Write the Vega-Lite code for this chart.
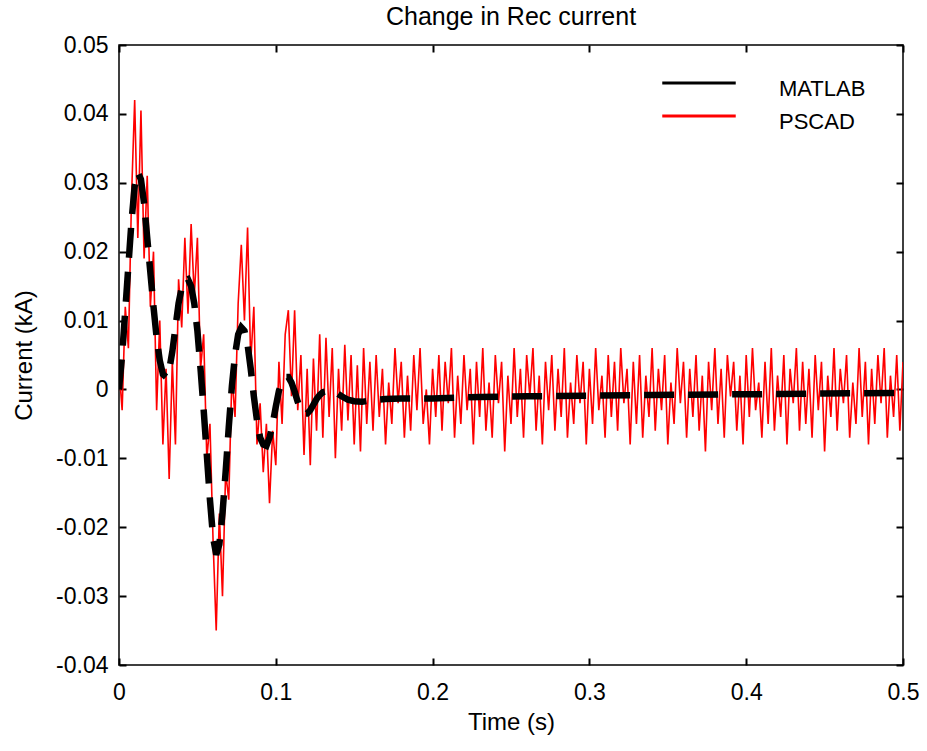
{
  "$schema": "https://vega.github.io/schema/vega-lite/v6.json",
  "width": 784,
  "height": 620,
  "autosize": {"type": "none"},
  "padding": {"left": 119, "top": 45, "right": 24, "bottom": 86},
  "background": "white",
  "config": {
    "font": "Liberation Sans",
    "view": {"stroke": "black", "strokeWidth": 1.5},
    "axis": {"grid": false, "domain": false, "offset": -7, "ticks": true, "tickColor": "#000000", "tickOpacity": 1, "labelColor": "black", "titleColor": "black", "labelFont": "Liberation Sans", "titleFont": "Liberation Sans", "labelFontSize": 23, "titleFontSize": 24, "titleFontWeight": "normal", "tickSize": 7, "tickWidth": 2, "zindex": 1, "labelFlush": false}
  },
  "title": {"text": "Change in Rec current", "font": "Liberation Sans", "fontSize": 25, "fontWeight": "normal", "color": "black", "offset": 4, "anchor": "middle"},
  "datasets": {
    "matlab": [
      {"t":0.000,"v":0.000},{"t":0.002,"v":0.005},{"t":0.004,"v":0.0115},{"t":0.006,"v":0.018},{"t":0.008,"v":0.0245},{"t":0.010,"v":0.0295},{"t":0.012,"v":0.0315},{"t":0.014,"v":0.0305},{"t":0.016,"v":0.027},{"t":0.018,"v":0.022},{"t":0.020,"v":0.017},{"t":0.022,"v":0.012},{"t":0.024,"v":0.0075},{"t":0.026,"v":0.0042},{"t":0.028,"v":0.0022},{"t":0.030,"v":0.0018},{"t":0.032,"v":0.0028},{"t":0.034,"v":0.0055},{"t":0.036,"v":0.009},{"t":0.038,"v":0.0125},{"t":0.040,"v":0.0148},{"t":0.042,"v":0.0158},{"t":0.044,"v":0.016},{"t":0.046,"v":0.015},{"t":0.048,"v":0.0125},{"t":0.050,"v":0.0085},{"t":0.052,"v":0.003},{"t":0.054,"v":-0.003},{"t":0.056,"v":-0.0095},{"t":0.058,"v":-0.016},{"t":0.060,"v":-0.0215},{"t":0.062,"v":-0.024},{"t":0.064,"v":-0.0225},{"t":0.066,"v":-0.018},{"t":0.068,"v":-0.012},{"t":0.070,"v":-0.0055},{"t":0.072,"v":0.0005},{"t":0.074,"v":0.005},{"t":0.076,"v":0.008},{"t":0.078,"v":0.009},{"t":0.080,"v":0.0085},{"t":0.082,"v":0.0065},{"t":0.084,"v":0.003},{"t":0.086,"v":-0.001},{"t":0.088,"v":-0.0045},{"t":0.090,"v":-0.007},{"t":0.092,"v":-0.008},{"t":0.094,"v":-0.0082},{"t":0.096,"v":-0.007},{"t":0.098,"v":-0.005},{"t":0.100,"v":-0.0025},{"t":0.102,"v":-0.0002},{"t":0.104,"v":0.0012},{"t":0.106,"v":0.0018},{"t":0.108,"v":0.0018},{"t":0.110,"v":0.001},{"t":0.112,"v":-0.0003},{"t":0.114,"v":-0.0018},{"t":0.116,"v":-0.003},{"t":0.118,"v":-0.0035},{"t":0.120,"v":-0.0035},{"t":0.122,"v":-0.003},{"t":0.124,"v":-0.0022},{"t":0.126,"v":-0.0014},{"t":0.128,"v":-0.0008},{"t":0.130,"v":-0.0004},{"t":0.134,"v":-0.0002},{"t":0.138,"v":-0.0004},{"t":0.142,"v":-0.001},{"t":0.146,"v":-0.0015},{"t":0.150,"v":-0.0017},{"t":0.155,"v":-0.0018},{"t":0.160,"v":-0.0016},{"t":0.170,"v":-0.0014},{"t":0.180,"v":-0.0013},{"t":0.200,"v":-0.0013},{"t":0.230,"v":-0.0011},{"t":0.260,"v":-0.001},{"t":0.300,"v":-0.0009},{"t":0.340,"v":-0.0008},{"t":0.400,"v":-0.0007},{"t":0.450,"v":-0.0006},{"t":0.500,"v":-0.0005}
    ],
    "pscad": [
      {"t":0.000,"v":0.003},{"t":0.002,"v":-0.003},{"t":0.004,"v":0.012},{"t":0.006,"v":0.006},{"t":0.008,"v":0.028},{"t":0.010,"v":0.042},{"t":0.012,"v":0.022},{"t":0.014,"v":0.0405},{"t":0.016,"v":0.019},{"t":0.018,"v":0.031},{"t":0.020,"v":0.012},{"t":0.022,"v":0.020},{"t":0.024,"v":-0.003},{"t":0.026,"v":0.010},{"t":0.028,"v":-0.008},{"t":0.030,"v":0.003},{"t":0.032,"v":-0.013},{"t":0.034,"v":0.004},{"t":0.036,"v":-0.008},{"t":0.038,"v":0.016},{"t":0.040,"v":0.009},{"t":0.042,"v":0.022},{"t":0.044,"v":0.011},{"t":0.046,"v":0.024},{"t":0.048,"v":0.0135},{"t":0.050,"v":0.022},{"t":0.052,"v":0.003},{"t":0.054,"v":0.008},{"t":0.056,"v":-0.010},{"t":0.058,"v":-0.005},{"t":0.060,"v":-0.022},{"t":0.062,"v":-0.035},{"t":0.064,"v":-0.018},{"t":0.066,"v":-0.030},{"t":0.068,"v":-0.012},{"t":0.070,"v":-0.016},{"t":0.072,"v":0.002},{"t":0.074,"v":-0.004},{"t":0.076,"v":0.0125},{"t":0.078,"v":0.021},{"t":0.080,"v":0.010},{"t":0.082,"v":0.0235},{"t":0.084,"v":0.004},{"t":0.086,"v":0.012},{"t":0.088,"v":-0.008},{"t":0.090,"v":-0.002},{"t":0.092,"v":-0.012},{"t":0.094,"v":-0.005},{"t":0.096,"v":-0.0165},{"t":0.098,"v":-0.006},{"t":0.100,"v":-0.011},{"t":0.102,"v":0.004},{"t":0.104,"v":-0.005},{"t":0.106,"v":0.008},{"t":0.108,"v":0.0115},{"t":0.110,"v":-0.001},{"t":0.112,"v":0.0115},{"t":0.114,"v":-0.003},{"t":0.116,"v":0.005},{"t":0.118,"v":-0.0095},{"t":0.120,"v":0.003},{"t":0.122,"v":-0.011},{"t":0.124,"v":0.0045},{"t":0.126,"v":-0.006},{"t":0.128,"v":0.008},{"t":0.130,"v":-0.007},{"t":0.132,"v":0.0075},{"t":0.134,"v":-0.004},{"t":0.136,"v":0.006},{"t":0.138,"v":-0.010},{"t":0.140,"v":0.003},{"t":0.142,"v":-0.006},{"t":0.144,"v":0.0065},{"t":0.146,"v":-0.0045},{"t":0.148,"v":0.005},{"t":0.150,"v":-0.008},{"t":0.152,"v":0.0035},{"t":0.154,"v":-0.009},{"t":0.156,"v":0.006},{"t":0.158,"v":-0.005},{"t":0.160,"v":0.004},
      {"t":0.162,"v":-0.006},{"t":0.164,"v":0.005},{"t":0.166,"v":-0.004},{"t":0.168,"v":0.003},{"t":0.170,"v":-0.008},{"t":0.172,"v":0.001},{"t":0.174,"v":-0.005},{"t":0.176,"v":0.006},{"t":0.178,"v":-0.002},{"t":0.180,"v":0.004},{"t":0.182,"v":-0.007},{"t":0.184,"v":0.002},{"t":0.186,"v":-0.006},{"t":0.188,"v":0.005},{"t":0.190,"v":-0.003},{"t":0.192,"v":0.006},{"t":0.194,"v":-0.005},{"t":0.196,"v":0.000},{"t":0.198,"v":-0.008},{"t":0.200,"v":0.003},{"t":0.202,"v":-0.004},{"t":0.204,"v":0.005},{"t":0.206,"v":-0.006},{"t":0.208,"v":0.004},{"t":0.210,"v":-0.002},{"t":0.212,"v":0.006},{"t":0.214,"v":-0.007},{"t":0.216,"v":0.002},{"t":0.218,"v":-0.005},{"t":0.220,"v":0.005},{"t":0.222,"v":-0.003},{"t":0.224,"v":0.003},{"t":0.226,"v":-0.008},{"t":0.228,"v":0.004},{"t":0.230,"v":-0.004},{"t":0.232,"v":0.006},{"t":0.234,"v":-0.006},{"t":0.236,"v":0.001},{"t":0.238,"v":-0.007},{"t":0.240,"v":0.005},{"t":0.242,"v":-0.002},{"t":0.244,"v":0.004},{"t":0.246,"v":-0.009},{"t":0.248,"v":0.002},{"t":0.250,"v":-0.005},{"t":0.252,"v":0.006},{"t":0.254,"v":-0.004},{"t":0.256,"v":0.003},{"t":0.258,"v":-0.007},{"t":0.260,"v":0.005},{"t":0.262,"v":-0.001},{"t":0.264,"v":0.006},{"t":0.266,"v":-0.006},{"t":0.268,"v":0.002},{"t":0.270,"v":-0.008},{"t":0.272,"v":0.004},{"t":0.274,"v":-0.003},{"t":0.276,"v":0.005},{"t":0.278,"v":-0.006},{"t":0.280,"v":0.003},{"t":0.282,"v":-0.004},{"t":0.284,"v":0.006},{"t":0.286,"v":-0.007},{"t":0.288,"v":0.001},{"t":0.290,"v":-0.005},{"t":0.292,"v":0.005},{"t":0.294,"v":-0.002},{"t":0.296,"v":0.004},{"t":0.298,"v":-0.008},{"t":0.300,"v":0.003},{"t":0.302,"v":-0.005},{"t":0.304,"v":0.006},{"t":0.306,"v":-0.003},{"t":0.308,"v":0.002},{"t":0.310,"v":-0.007},{"t":0.312,"v":0.005},{"t":0.314,"v":-0.004},{"t":0.316,"v":0.004},{"t":0.318,"v":-0.006},{"t":0.320,"v":0.006},{"t":0.322,"v":-0.002},{"t":0.324,"v":0.003},{"t":0.326,"v":-0.008},{"t":0.328,"v":0.004},{"t":0.330,"v":-0.005},{"t":0.332,"v":0.005},{"t":0.334,"v":-0.007},{"t":0.336,"v":0.002},{"t":0.338,"v":-0.004},{"t":0.340,"v":0.006},{"t":0.342,"v":-0.006},{"t":0.344,"v":0.003},{"t":0.346,"v":-0.003},{"t":0.348,"v":0.005},{"t":0.350,"v":-0.008},{"t":0.352,"v":0.001},{"t":0.354,"v":-0.005},{"t":0.356,"v":0.006},{"t":0.358,"v":-0.002},{"t":0.360,"v":0.004},{"t":0.362,"v":-0.007},{"t":0.364,"v":0.003},{"t":0.366,"v":-0.004},{"t":0.368,"v":0.005},{"t":0.370,"v":-0.006},{"t":0.372,"v":0.002},{"t":0.374,"v":-0.009},{"t":0.376,"v":0.004},{"t":0.378,"v":-0.003},{"t":0.380,"v":0.006},{"t":0.382,"v":-0.005},{"t":0.384,"v":0.003},{"t":0.386,"v":-0.007},{"t":0.388,"v":0.005},{"t":0.390,"v":-0.001},{"t":0.392,"v":0.004},{"t":0.394,"v":-0.006},{"t":0.396,"v":0.002},{"t":0.398,"v":-0.008},{"t":0.400,"v":0.005},{"t":0.402,"v":-0.004},{"t":0.404,"v":0.006},{"t":0.406,"v":-0.003},{"t":0.408,"v":0.001},{"t":0.410,"v":-0.007},{"t":0.412,"v":0.004},{"t":0.414,"v":-0.005},{"t":0.416,"v":0.006},{"t":0.418,"v":-0.006},{"t":0.420,"v":0.002},{"t":0.422,"v":-0.004},{"t":0.424,"v":0.005},{"t":0.426,"v":-0.008},{"t":0.428,"v":0.003},{"t":0.430,"v":-0.002},{"t":0.432,"v":0.006},{"t":0.434,"v":-0.006},{"t":0.436,"v":0.004},{"t":0.438,"v":-0.005},{"t":0.440,"v":0.003},{"t":0.442,"v":-0.007},{"t":0.444,"v":0.005},{"t":0.446,"v":-0.003},{"t":0.448,"v":0.004},{"t":0.450,"v":-0.009},{"t":0.452,"v":0.002},{"t":0.454,"v":-0.004},{"t":0.456,"v":0.006},{"t":0.458,"v":-0.006},{"t":0.460,"v":0.003},{"t":0.462,"v":-0.002},{"t":0.464,"v":0.005},{"t":0.466,"v":-0.007},{"t":0.468,"v":0.001},{"t":0.470,"v":-0.005},{"t":0.472,"v":0.006},{"t":0.474,"v":-0.004},{"t":0.476,"v":0.004},{"t":0.478,"v":-0.008},{"t":0.480,"v":0.003},{"t":0.482,"v":-0.005},{"t":0.484,"v":0.005},{"t":0.486,"v":-0.002},{"t":0.488,"v":0.006},{"t":0.490,"v":-0.007},{"t":0.492,"v":0.002},{"t":0.494,"v":-0.004},{"t":0.496,"v":0.005},{"t":0.498,"v":-0.006},{"t":0.500,"v":0.004}
    ]
  },
  "layer": [
    {
      "data": {"name": "pscad"},
      "mark": {"type": "line", "strokeWidth": 1.6, "clip": true},
      "encoding": {
        "x": {"field": "t", "type": "quantitative", "scale": {"domain": [0, 0.5], "nice": false, "zero": false},
              "axis": {"orient": "bottom", "title": "Time (s)", "values": [0, 0.1, 0.2, 0.3, 0.4, 0.5], "format": ".1~f", "labelPadding": 16, "titlePadding": 6}},
        "y": {"field": "v", "type": "quantitative", "scale": {"domain": [-0.04, 0.05], "nice": false, "zero": false},
              "axis": {"orient": "left", "title": "Current (kA)", "values": [-0.04, -0.03, -0.02, -0.01, 0, 0.01, 0.02, 0.03, 0.04, 0.05], "labelExpr": "replace(format(datum.value, '.2~f'), '\u2212', '-')", "labelPadding": 11, "titlePadding": 19}},
        "color": {"datum": "PSCAD", "type": "nominal", "scale": {"domain": ["MATLAB", "PSCAD"], "range": ["#000000", "#ff0000"]},
                  "legend": {"title": null, "orient": "none", "legendX": 569, "legendY": 27, "symbolType": "M-6,0H6", "symbolSize": 150, "symbolStrokeWidth": 3, "labelFontSize": 22, "labelFont": "Liberation Sans", "labelColor": "black", "labelOffset": 69, "rowPadding": 5, "padding": 0, "labelBaseline": "middle",
                             "encode": {"labels": {"update": {"dy": {"value": 6}}}}}}
      }
    },
    {
      "data": {"name": "matlab"},
      "mark": {"type": "line", "strokeWidth": 6.5, "strokeDash": [30, 14], "clip": true},
      "encoding": {
        "x": {"field": "t", "type": "quantitative", "axis": {"orient": "top", "title": null, "labels": false, "values": [0, 0.1, 0.2, 0.3, 0.4, 0.5]}},
        "y": {"field": "v", "type": "quantitative", "axis": {"orient": "right", "title": null, "labels": false, "values": [-0.04, -0.03, -0.02, -0.01, 0, 0.01, 0.02, 0.03, 0.04, 0.05]}},
        "color": {"datum": "MATLAB", "type": "nominal"}
      }
    }
  ],
  "resolve": {"axis": {"x": "independent", "y": "independent"}}
}
